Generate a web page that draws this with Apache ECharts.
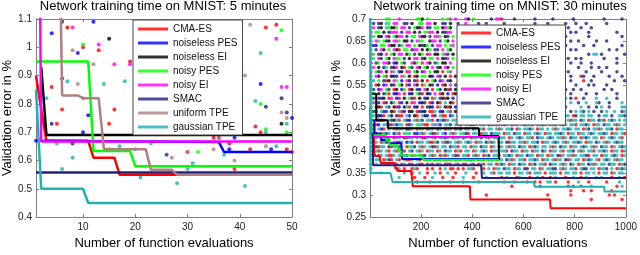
<!DOCTYPE html>
<html><head><meta charset="utf-8">
<script src="https://cdn.jsdelivr.net/npm/echarts@6/dist/echarts.min.js"></script>
<style>html,body{margin:0;padding:0;background:#fff}#c{width:640px;height:255px}</style>
</head><body><div id="c"></div>
<script>
// ---------- categories ----------
const methods5 = ['CMA-ES','noiseless PES','noiseless EI','noisy PES','noisy EI','SMAC','uniform TPE','gaussian TPE'];
const methods30 = ['CMA-ES','noiseless PES','noiseless EI','noisy PES','noisy EI','SMAC','gaussian TPE'];
const title5 = 'Network training time on MNIST: 5 minutes';
const title30 = 'Network training time on MNIST: 30 minutes';
const xName = 'Number of function evaluations';
const yName = 'Validation error in %';

// ---------- tick labels ----------
const xTicks5 = [10,20,30,40,50];
const yTicks5 = [0.4,0.5,0.6,0.7,0.8,0.9,1,1.1];
const xTicks30 = [200,400,600,800,1000];
const yTicks30 = [0.25,0.3,0.35,0.4,0.45,0.5,0.55,0.6,0.65,0.7];

// ---------- 5 minute run: best-so-far curves (vertices [evaluation, error]) ----------
const best5_cma   = [[1,0.9],[2,0.78],[3,0.67],[11,0.67],[12,0.61],[16,0.61],[17,0.55],[50,0.55]];
const best5_nPES  = [[1,0.67],[36,0.665],[37,0.63],[50,0.63]];
const best5_nEI   = [[2,0.93],[3,0.69],[50,0.69]];
const best5_yPES  = [[1,0.95],[11,0.95],[12,0.634],[19,0.634],[20,0.58],[50,0.58]];
const best5_yEI   = [[1,3.0],[2,0.667],[50,0.667]];
const best5_smac  = [[1,0.558],[50,0.558]];
const best5_uTPE  = [[1,2.0],[5,2.0],[6,0.83],[9,0.83],[10,0.82],[13,0.82],[14,0.64],[22,0.64],[23,0.567],[27,0.567],[28,0.55],[50,0.55]];
const best5_gTPE  = [[1,0.85],[2,0.5],[10,0.5],[11,0.45],[50,0.45]];

// ---------- 5 minute run: individual evaluations ----------
const evals5_cma  = [[7,1.07],[10,1.0],[13,0.99],[19,0.95],[4,0.86],[6,0.78],[16,0.78],[5,0.73],[15,0.73],[35,0.68],[36,0.68],[38,0.66],[43,0.72],[44,0.70],[42,0.64],[49,0.64],[30,0.63],[39,0.57],[50,0.63],[45,1.07],[47,1.08]];
const evals5_nPES = [[12,1.09],[4,1.05],[9,0.98],[11,0.76],[10,0.70],[20,0.70],[1,0.67],[39,0.68],[38,0.64],[46,0.64],[44,0.87],[50,0.75]];
const evals5_nEI  = [[15,1.03],[48,0.73]];
const evals5_yPES = [[10,1.01],[48,1.06],[44,0.80],[45,0.71],[49,0.70],[32,0.63]];
const evals5_yEI  = [[8,1.07],[13,1.01],[16,0.94],[19,0.94],[47,1.03],[48,0.86],[49,0.86],[26,0.72]];
const evals5_smac = [[6,1.09],[6,0.89],[4,0.73],[8,0.66],[26,0.62],[48,0.82],[45,0.79],[49,0.77]];
const evals5_uTPE = [[42,1.08],[8,0.99],[12,0.94],[9,0.87],[41,0.90],[27,0.61],[30,0.63],[35,0.64],[36,0.68],[39,0.60],[45,0.65],[49,0.75],[48,0.77]];
const evals5_gTPE = [[44,0.98],[7,0.88],[14,0.87],[18,0.88],[3,0.82],[10,0.82],[43,0.81],[5,0.66],[17,0.65],[15,0.64],[20,0.64],[23,0.66],[8,0.61],[6,0.57],[21,0.54],[28,0.52],[30,0.57],[31,0.59],[37,0.62],[38,0.71],[41,0.51],[45,0.70],[47,0.65],[49,0.73]];

// ---------- 30 minute run: best-so-far curves ----------
const best30_cma  = [[1,0.46],[16,0.46],[17,0.396],[22,0.389],[39,0.389],[43,0.373],[97,0.373],[100,0.361],[108,0.361],[109,0.355],[162,0.355],[168,0.32],[391,0.32],[393,0.29],[704,0.29],[706,0.27],[1000,0.27]];
const best30_nPES = [[1,0.47],[18,0.47],[19,0.44],[40,0.44],[45,0.425],[75,0.425],[78,0.418],[123,0.418],[126,0.382],[505,0.382]];
const best30_nEI  = [[1,0.53],[25,0.53],[26,0.47],[70,0.47],[71,0.452],[426,0.452],[427,0.434],[503,0.434],[505,0.38]];
const best30_yPES = [[1,0.8],[6,0.8],[7,0.436],[62,0.436],[65,0.424],[75,0.424],[78,0.413],[110,0.413],[112,0.40],[122,0.40],[124,0.39],[205,0.39],[208,0.38],[505,0.38]];
const best30_yEI  = [[1,0.5],[3,0.5],[4,0.432],[505,0.432]];
const best30_smac = [[1,0.44],[12,0.44],[13,0.368],[435,0.368],[438,0.339],[1000,0.339]];
const best30_gTPE = [[1,0.8],[2,0.8],[3,0.35],[81,0.35],[89,0.33],[640,0.33],[645,0.319],[915,0.319],[917,0.308],[1000,0.308]];

// ---------- 30 minute run: individual evaluations ----------
// one string per error level; each character is a block of 10 evaluations,
// letter = method that produced an evaluation there (r CMA-ES, b noiseless PES,
// k noiseless EI, g noisy PES, m noisy EI, n SMAC, c gaussian TPE)
const cloudLevels30 = [0.70,0.69,0.68,0.67,0.66,0.65,0.64,0.63,0.62,0.61,0.60,0.59,0.58,0.57,0.56,0.55,0.54,0.53,0.52,0.51,0.50,0.49,0.48,0.47,0.46,0.45,0.44,0.43,0.42,0.41,0.40,0.39,0.38,0.37,0.36,0.35,0.34,0.33,0.32,0.31,0.30,0.29];
const cloudEvals30 = [
"......gg.. .m......gg k.g.....g. gm.m...mk. g......n.m mr....n... ....n..... .n.......n .......... .n......n.",
".n.nk.cg.m m..nn.k..g g.mm.k..nn .k..n..m.. ..n..n.... ..n....... ....n....n ......n... n...n..... ..n.......",
"cm.nk.cgkk g.mm.n.gkk m.nn.gg.km gk........ .......... .......... .......... .......n.. ..n...n... ..........",
"m.gg.k.nmm m.n.mm.k.n .ggmm.k.nn mm........ .......... .......... .......... ........n. n....n.... ......n...",
"cg.kk.mn.g kmm.n.gg.m kk.n.mmg.k n.g....... .......... .......... .......... ......n... .....n.... ........n.",
"c.mg.gnk.m mg.kk.n.mg g..kmm.n.g k.m....... .......... .......... .......... ........n. .n......n. ..n.......",
"mnb.gg.mkk .ng.mm.g.k nkg.n.mm.g .gm....... .......... .......... .......... n.....n... ...n...n.. ........n.",
"c.n.mk.g.m kr.gg.nmm. k.kg.nn.m. gk........ .......... .......... .......... ........n. n......... ...n..n...",
"mg.nk.m.gk .mm.kg.n.k g.rm.kk.gm n.k....... .......... .......... .......... ...n...... .....n.cc. n........n",
"cg.mn.gk.m gg.n.k.mm. nk.gg.m.kn m.g....... .......... .......... .......... .......n.. n.n....... .n....n...",
"m.ng.mmk.b k.gn..mkg. r.mk.ng.kk .m........ .......... .......... .......... n.......n. ..n...n... ......n...",
"cm.k.bg.nk m.kr.gn.mk .gk.m.nk.m k.g....... .......... .......... .......... ....n..... .n....n..n ..n.......",
"m.gnm.k.mg .bk.rm.gk. nm.g.kk.r. gm........ .......... .......... .......... ..n....n.. ....n..... n.....n...",
"c.mk.gr.kb n.mg.k.rk. gg.kb.mn.k .r.k...... .......... .......... .......... ........n. ..rn...n.. ...n....n.",
"mc.g.nrk.m g.b.mk.nr. k.r.gk.bm. nk........ .......... .......... .......... .n......n. ...r..n... .....n...n",
"c.rk.bm.kn .gk.rb.mk. rg.kn.b.rk .m.n...... .......... .......... .......... ....n..... n....n.n.. ..n.......",
"cn.bm.gn.r k.bg.rk.nb .mk.r.gb.k rn.k...... .......... .......... .......... ......n..n ..n....... .n..n.....",
"cg.k.ngr.b km.r.bk.gn r.kb.m.rk. b.rk...... .......... .......... .......... .n......n. ....n...n. ......n...",
"cn.nbk.rm. br.k.gnr.k .bk.rc.nkr k.b....... .......... .......... .......... .....cc.n. r..n....c. ..c...n...",
"cm.b.rn.kc .rb.k.rm.b kn.rb.kr.c .kr....... .......... .......... .......... ........c. .n..c...cn ...n....c.",
"c.rkr.cn.k rb.kcr.bk. r.nkb.rc.k rk.b...... .......... .......... .......... ......n... ..c..n..n. c..n....cc",
"cnr.cbn.kr .crb.kk.rn bk.rrc.bk. cr.k...... .......... .......... .......... .....c..n. c.cn.c.n.. n.c..c..nc",
"cc.kbr.ck. nrr.cb.kr. ckb.rn.crr .bc.k..... .......... .......... .......... ......cc.r n.cc.cc..n .cc.n..ccn",
"c.nbkr.cnk cr.cnb.crc n.ccr.bcnr c.cc.rcn.c cc.r.cn.cc r.cn..rcc. c.r.cc.cn. .rcc.n.crc c.nc.rcc.n cr.cnc.c.c",
"c.rb.ccnrc bcc.rnc.gc crr.cmcb.c cn.ccr.ccn rc.cc.nccr ccnc.rcc.c nccr.ccnc. ccr.cnc.cc r.ccnc.rcc .ncc.crc.c",
"cn.cbr.c.c rcc.bnc.rc c.rcc.nc.r cc.rcn.cc. nc.cr.cc.c rc.ccn.rc. ccnc.rcc.c .crc.ccnc. cc.rcn.ccr c.ccn.rcc.",
"cgb.rcnc.b cr.cgc.nbc rc.cnrc.cb .crc.gcnr. cc.rcc.ncc c.rcc.ncc. rcc.cnc.rc c.ccnc.rcc .rcc.cnc.c cnc.rcc.cr",
"c.c.rcnc.r cc.nrcc.c. rnc.cr.ccn c.rcc.nc.r cc.n.cr.cc ncc.rc.cnc .ccr.ncc.c nc.ccrc.nc c.rcnc.cc. rc.cnc.cr.",
"cnc.rcnr.c rrc.bcn.rc c.crrcn.cr nc.crc.cnc .rcc.ncrc. cc.nrcc.cc rc.ccn.rcc .cnc.crc.c cnc.rcc.nc .crc.cncc.",
"c.nrcc.nrc cnc.rgcn.c rc.cnrc.cc .nccr.cc.r cc.ncc.rc. nc.crcc.nc c.rcnc.cc. crc.ncc.rc c.cnc.crc. ncc.rc.cnc",
"c.crc.cr.c rccr.cn.cr c.rcc.rc.n cc.rcr.cc. rc.cnc.rcc .ccr.ncc.r cc.rcc.nc. rcc.cr.ccn .crc.ccr.c cnc.rcc.rc",
"cn.rc.crrc .crcn.rc.c rn.crc.rcr c.cnr.ccr. crc.rcn.cc r.ccnc.rcc .ncc.rcc.r cc.nrc.ccr c.ccnr.cc. rcc.cnc.rc",
"c.cc.rcnr. cr.crrc.cr .crc.rcc.r cr.rcc.crn c.rcr.cc.r cc.ncrc.cc r.ccnc.rcc .crcc.nrc. cc.rcnc.cr .cnc.crcc.",
"c.c.c.rr.c r.rc.rr.cr r.rcr.rc.r rr.cr.rr.c r.rcr.cc.r cnc.rcc.nc c.rcn.ccr. ncc.crc.nc .rcc.ncrc. cc.ncc.rcn",
"c......... rc.r..rcr. ..r.r..r.c .rr.r.r.cc r...r.c.rc c.ncc.rcc. nn.cc.rc.c cnn.crc.cc r.cnn.cc.r ccn.c.rcnc",
"c...c..... ...c..r..c ..r..c.r.. c..r...c.. .r..c..cr. cc.cc.r.cc .cr.ccc.r. ccc.r.cc.c c.r.cc.c.r .cc.rc.cc.",
".......... .c.....r.. .r..c...r. ..r...c... r....c.... .r.c...rc. ..r..c.r.. r.c...r..c ..r.c...c. c...r..c.r",
".......... ........r. ...r...... .r....r... ..r....... ..r...r... .r..r.r..c c.r....r.. .c...r.... ..r....c..",
".......... .......... .......... .......... .......... .....r.... ......r... .......r.r ..r...c... ......r.c.",
".......... .......... .......... .......... .......... .......... .......... ........r. ...r..r... ....r.....",
".......... .......... .......... .......... .....r.... .......... .........r ........r. .......... ...r.r....",
".......... .......... .......... .......... .......... .......... .......... .......... ......r... ........r."
];
const cloudBlock30 = 10; // evaluations per character

// ---------- build ----------
const colors = {'CMA-ES':'#ff0000','noiseless PES':'#0000ff','noiseless EI':'#000000','noisy PES':'#00ff00','noisy EI':'#ff00ff','SMAC':'#20207f','uniform TPE':'#b08080','gaussian TPE':'#20b2b2'};
const codeToMethod = {r:'CMA-ES',b:'noiseless PES',k:'noiseless EI',g:'noisy PES',m:'noisy EI',n:'SMAC',c:'gaussian TPE'};
const best5 = {'CMA-ES':best5_cma,'noiseless PES':best5_nPES,'noiseless EI':best5_nEI,'noisy PES':best5_yPES,'noisy EI':best5_yEI,'SMAC':best5_smac,'uniform TPE':best5_uTPE,'gaussian TPE':best5_gTPE};
const evals5 = {'CMA-ES':evals5_cma,'noiseless PES':evals5_nPES,'noiseless EI':evals5_nEI,'noisy PES':evals5_yPES,'noisy EI':evals5_yEI,'SMAC':evals5_smac,'uniform TPE':evals5_uTPE,'gaussian TPE':evals5_gTPE};
const best30 = {'CMA-ES':best30_cma,'noiseless PES':best30_nPES,'noiseless EI':best30_nEI,'noisy PES':best30_yPES,'noisy EI':best30_yEI,'SMAC':best30_smac,'gaussian TPE':best30_gTPE};
const evals30 = {};
methods30.forEach(m => evals30[m] = []);
cloudEvals30.forEach((row, i) => {
  const s = row.replace(/ /g,'');
  for (let j = 0; j < s.length; j++) {
    const m = codeToMethod[s[j]];
    if (m) evals30[m].push([j*cloudBlock30 + cloudBlock30/2, cloudLevels30[i]]);
  }
});

const FONT = 'Liberation Sans, Arial, sans-serif';
const AX = '#7f7f7f';
const fmt = v => String(Math.round(v*100)/100);

function xAxes(grid, min, max, ticks) {
  return [
    {type:'value', gridIndex:grid, min, max, position:'bottom',
     axisLine:{show:true,onZero:false,lineStyle:{color:AX,width:1}},
     axisTick:{show:true,inside:true,length:3,customValues:ticks,lineStyle:{color:AX}},
     axisLabel:{customValues:ticks,fontSize:10,color:'#222',margin:5,fontFamily:FONT,formatter:fmt},
     splitLine:{show:false},
     name:xName,nameLocation:'middle',nameGap:15,nameTextStyle:{fontSize:13,color:'#000',fontFamily:FONT}},
    {type:'value', gridIndex:grid, min, max, position:'top',
     axisLine:{show:true,onZero:false,lineStyle:{color:AX,width:1}},
     axisTick:{show:true,inside:true,length:3,customValues:ticks,lineStyle:{color:AX}},
     axisLabel:{show:false}, splitLine:{show:false}}
  ];
}
function yAxes(grid, min, max, ticks, gap) {
  return [
    {type:'value', gridIndex:grid, min, max, position:'left',
     axisLine:{show:true,onZero:false,lineStyle:{color:AX,width:1}},
     axisTick:{show:true,inside:true,length:3,customValues:ticks,lineStyle:{color:AX}},
     axisLabel:{customValues:ticks,fontSize:10,color:'#222',margin:4,fontFamily:FONT,formatter:fmt},
     splitLine:{show:false},
     name:yName,nameLocation:'middle',nameGap:gap,nameRotate:90,nameTextStyle:{fontSize:13,color:'#000',fontFamily:FONT}},
    {type:'value', gridIndex:grid, min, max, position:'right',
     axisLine:{show:true,onZero:false,lineStyle:{color:AX,width:1}},
     axisTick:{show:true,inside:true,length:3,customValues:ticks,lineStyle:{color:AX}},
     axisLabel:{show:false}, splitLine:{show:false}}
  ];
}

const series = [];
methods5.forEach(m => series.push({type:'scatter',name:m,xAxisIndex:0,yAxisIndex:0,data:evals5[m],symbol:'circle',symbolSize:4,itemStyle:{color:colors[m]},z:2,clip:true,silent:true}));
methods5.forEach((m,i) => series.push({type:'line',name:m,xAxisIndex:0,yAxisIndex:0,data:best5[m],symbol:'none',lineStyle:{width:2.5,color:colors[m]},itemStyle:{color:colors[m]},z:3+i*0.01,clip:true,silent:true}));
methods30.forEach(m => series.push({type:'scatter',name:m,xAxisIndex:2,yAxisIndex:2,data:evals30[m],symbol:'circle',symbolSize:3.5,itemStyle:{color:colors[m]},z:2,clip:true,silent:true,large:false}));
methods30.forEach((m,i) => series.push({type:'line',name:m,xAxisIndex:2,yAxisIndex:2,data:best30[m],symbol:'none',lineStyle:{width:2,color:colors[m]},itemStyle:{color:colors[m]},z:3+i*0.01,clip:true,silent:true}));

const legendBase = {orient:'vertical',icon:'rect',itemHeight:3,itemGap:0,backgroundColor:'#fff',borderColor:'#444',borderWidth:1,selectedMode:false,
  textStyle:{fontSize:10,lineHeight:14,color:'#111',fontFamily:FONT}};

const option = {
  animation:false,
  backgroundColor:'#fff',
  title:[
    {text:title5,left:163,top:0,textAlign:'center',padding:0,textStyle:{fontSize:13,fontWeight:'normal',color:'#000',fontFamily:FONT}},
    {text:title30,left:500,top:0,textAlign:'center',padding:0,textStyle:{fontSize:13,fontWeight:'normal',color:'#000',fontFamily:FONT}}
  ],
  legend:[
    Object.assign({},legendBase,{data:methods5,left:133,top:20,itemWidth:30,padding:[2,5,1,5]}),
    Object.assign({},legendBase,{data:methods30,left:457,top:25,itemWidth:30,padding:[1,5,1,4]})
  ],
  grid:[
    {left:33.6,right:348,top:19,bottom:27,show:false},
    {left:370,right:10.5,top:19,bottom:26,show:false}
  ],
  xAxis:[...xAxes(0,1,50,xTicks5), ...xAxes(1,1,1000,xTicks30)],
  yAxis:[...yAxes(0,0.4,1.1,yTicks5,22), ...yAxes(1,0.25,0.7,yTicks30,26)],
  series
};
const chart = echarts.init(document.getElementById('c'),null,{renderer:'canvas',width:640,height:255});
chart.setOption(option);
</script>
</body></html>
